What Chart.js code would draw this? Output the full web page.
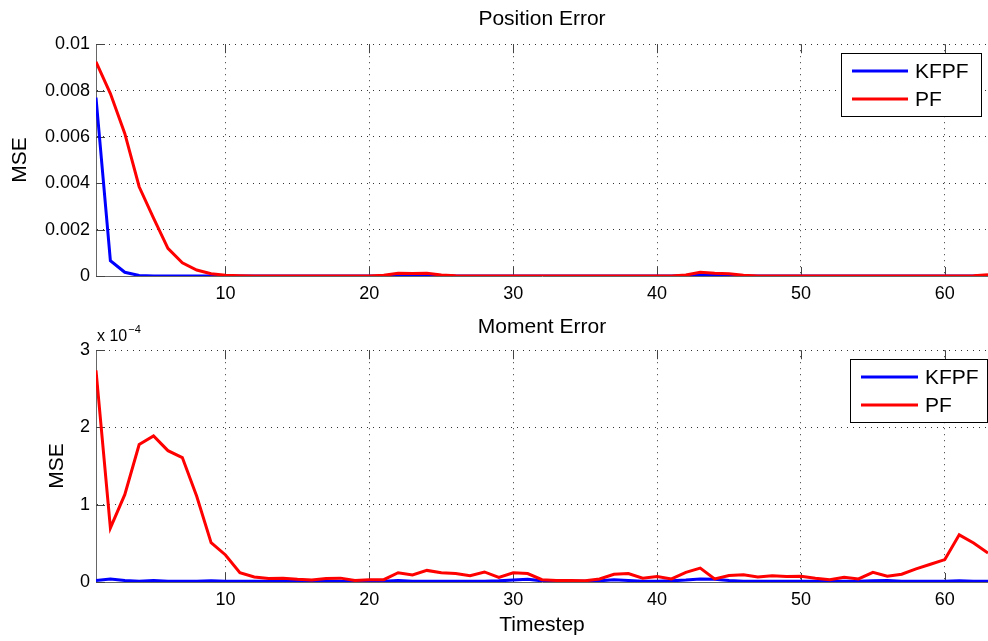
<!DOCTYPE html>
<html>
<head>
<meta charset="utf-8">
<script src="https://cdn.jsdelivr.net/npm/chart.js@4.4.1/dist/chart.umd.min.js"></script>
<style>
  body { margin: 0; background: #fff; }
  canvas { position: absolute; left: 0; }
  #graphique-position { top: 0; }
  #graphique-moment { top: 310px; }
</style>
</head>
<body>
<canvas id="graphique-position" width="988" height="310"></canvas>
<canvas id="graphique-moment" width="988" height="331"></canvas>
<script>
/* Position / Moment error — KFPF vs PF */

const timesteps = [1, 2, 3, 4, 5, 6, 7, 8, 9, 10, 11, 12, 13, 14, 15, 16, 17, 18, 19, 20,
  21, 22, 23, 24, 25, 26, 27, 28, 29, 30, 31, 32, 33, 34, 35, 36, 37, 38, 39, 40,
  41, 42, 43, 44, 45, 46, 47, 48, 49, 50, 51, 52, 53, 54, 55, 56, 57, 58, 59, 60, 61, 62, 63];

const seriesLabels = ["KFPF", "PF"];
const seriesColors = ["#0000ff", "#ff0000"];

const positionKfpf = [0.0077, 0.00066, 0.00016, 0.00002, 0, 0, 0, 0, 0, 0,
  0, 0, 0, 0, 0, 0, 0, 0, 0, 0,
  0.00001, 0.00005, 0.00005, 0.00004, 0.00001, 0, 0, 0, 0, 0,
  0, 0, 0, 0, 0, 0, 0, 0, 0, 0,
  0, 0.00002, 0.00008, 0.00005, 0.00002, 0, 0, 0, 0, 0,
  0, 0, 0, 0, 0, 0, 0, 0, 0, 0,
  0, 0, 0];
const positionPf = [0.00924, 0.00787, 0.00615, 0.00385, 0.0025, 0.00119, 0.00057, 0.00026, 0.0001, 0.00003,
  0.00001, 0, 0, 0, 0, 0, 0, 0, 0, 0,
  0.00003, 0.00012, 0.00011, 0.00012, 0.00004, 0.00001, 0, 0, 0, 0,
  0, 0, 0, 0, 0, 0, 0, 0, 0, 0,
  0, 0.00004, 0.00016, 0.00012, 0.0001, 0.00003, 0, 0, 0, 0,
  0, 0, 0, 0, 0, 0, 0, 0, 0, 0,
  0, 0.00001, 0.00005];

// en unités de 1e-4 (cf. "x 10^-4" sur l'axe)
const momentKfpf = [0.02, 0.04, 0.02, 0.01, 0.02, 0.01, 0.01, 0.01, 0.015, 0.01,
  0.01, 0.01, 0.01, 0.01, 0.01, 0.01, 0.01, 0.01, 0.01, 0.01,
  0.01, 0.02, 0.01, 0.01, 0.01, 0.01, 0.01, 0.01, 0.015, 0.025,
  0.035, 0.015, 0.01, 0.01, 0.01, 0.015, 0.03, 0.02, 0.01, 0.01,
  0.015, 0.025, 0.04, 0.035, 0.02, 0.01, 0.01, 0.01, 0.01, 0.01,
  0.01, 0.01, 0.01, 0.01, 0.015, 0.02, 0.01, 0.01, 0.01, 0.01,
  0.015, 0.01, 0.01];
const momentPf = [2.74, 0.70, 1.13, 1.78, 1.89, 1.70, 1.61, 1.11, 0.51, 0.35,
  0.12, 0.065, 0.045, 0.05, 0.035, 0.025, 0.045, 0.05, 0.02, 0.03,
  0.03, 0.12, 0.09, 0.15, 0.12, 0.11, 0.08, 0.13, 0.06, 0.12,
  0.11, 0.03, 0.02, 0.02, 0.015, 0.04, 0.10, 0.11, 0.05, 0.07,
  0.04, 0.125, 0.18, 0.04, 0.085, 0.095, 0.065, 0.08, 0.07, 0.075,
  0.05, 0.03, 0.06, 0.04, 0.125, 0.075, 0.10, 0.17, 0.23, 0.29,
  0.61, 0.505, 0.375];

const timeTicks = [10, 20, 30, 40, 50, 60];
const positionTicks = [0, 0.002, 0.004, 0.006, 0.008, 0.01];
const momentTicks = [0, 1, 2, 3];

const POLICE = "'Liberation Sans', Arial, Helvetica, sans-serif";

// petits traits de graduation vers l'intérieur, façon MATLAB
const traitsGraduation = {
  id: "traitsGraduation",
  beforeDatasetsDraw(chart) {
    const { ctx, chartArea: a, scales: { x, y } } = chart;
    ctx.save();
    ctx.strokeStyle = "#444";
    ctx.lineWidth = 1;
    ctx.beginPath();
    x.ticks.forEach(function(t) {
      const px = Math.round(x.getPixelForValue(t.value)) + 0.5;
      ctx.moveTo(px, a.bottom); ctx.lineTo(px, a.bottom - 9);
      ctx.moveTo(px, a.top); ctx.lineTo(px, a.top + 9);
    });
    y.ticks.forEach(function(t) {
      const py = Math.round(y.getPixelForValue(t.value)) + 0.5;
      ctx.moveTo(a.left, py); ctx.lineTo(a.left + 9, py);
    });
    ctx.stroke();
    ctx.restore();
  }
};

// légende encadrée + multiplicateur éventuel
const legendeCadre = {
  id: "legendeCadre",
  afterDraw(chart, args, opts) {
    const ctx = chart.ctx;
    const b = opts.box;
    ctx.save();
    ctx.fillStyle = "#fff";
    ctx.fillRect(b.x, b.y, b.w, b.h);
    ctx.strokeStyle = "#000";
    ctx.lineWidth = 1;
    ctx.strokeRect(b.x + 0.5, b.y + 0.5, b.w, b.h);
    ctx.font = "21px " + POLICE;
    ctx.textBaseline = "middle";
    chart.data.datasets.forEach(function(ds, i) {
      const ly = b.y + b.firstRow + i * b.rowGap;
      ctx.strokeStyle = ds.borderColor;
      ctx.lineWidth = 3;
      ctx.beginPath();
      ctx.moveTo(b.x + 11, ly); ctx.lineTo(b.x + 11 + b.lineLen, ly);
      ctx.stroke();
      ctx.fillStyle = "#000";
      ctx.fillText(ds.label, b.x + 18 + b.lineLen, ly + 1);
    });
    if (opts.multiplier) {
      const a = chart.chartArea;
      ctx.textBaseline = "alphabetic";
      ctx.font = "16px " + POLICE;
      ctx.fillText("x 10", a.left + 1, a.top - 9);
      const w = ctx.measureText("x 10").width;
      ctx.font = "11px " + POLICE;
      ctx.fillText(opts.multiplier, a.left + 2 + w, a.top - 17);
    }
    ctx.restore();
  }
};

function creerGraphique(canvasId, reglages) {
  const canvas = document.getElementById(canvasId);
  return new Chart(canvas.getContext("2d"), {
    type: "line",
    data: {
      datasets: reglages.series.map(function(valeurs, i) {
        return {
          label: seriesLabels[i],
          data: valeurs.map(function(v, k) { return { x: timesteps[k], y: v }; }),
          borderColor: seriesColors[i],
          borderWidth: 3,
          pointRadius: 0,
          tension: 0,
          fill: false,
          order: reglages.series.length - i
        };
      })
    },
    options: {
      responsive: false,
      animation: false,
      devicePixelRatio: 1,
      layout: { padding: { top: 0, left: 0, right: 0, bottom: 0 } },
      plugins: {
        legend: { display: false },
        tooltip: { enabled: false },
        title: {
          display: true,
          text: reglages.titre,
          fullSize: false,
          color: "#000",
          font: { family: POLICE, size: 21, weight: "normal" },
          padding: reglages.titrePadding
        },
        legendeCadre: { box: reglages.legende, multiplier: reglages.multiplicateur }
      },
      scales: {
        x: {
          type: "linear",
          min: 1,
          max: 63,
          afterBuildTicks: function(s) { s.ticks = timeTicks.map(function(v) { return { value: v }; }); },
          afterFit: function(s) { s.height = reglages.hauteurX; },
          grid: { color: "rgba(0,0,0,0.8)", lineWidth: 1, drawTicks: false },
          border: { display: true, color: "#666", width: 1, dash: [1, 5] },
          ticks: { color: "#000", font: { family: POLICE, size: 18 }, padding: 7, maxRotation: 0, autoSkip: false },
          title: reglages.titreX
            ? { display: true, text: reglages.titreX, color: "#000", font: { family: POLICE, size: 21 }, padding: { top: 0, bottom: 3 } }
            : { display: false }
        },
        y: {
          min: 0,
          max: reglages.ticksY[reglages.ticksY.length - 1],
          afterBuildTicks: function(s) { s.ticks = reglages.ticksY.map(function(v) { return { value: v }; }); },
          afterFit: function(s) { s.width = 96; },
          grid: { color: "rgba(0,0,0,0.8)", lineWidth: 1, drawTicks: false },
          border: { display: true, color: "#666", width: 1, dash: [1, 5] },
          ticks: {
            color: "#000",
            font: { family: POLICE, size: 18 },
            padding: 6,
            callback: function(v) { return v === 0 ? "0" : String(parseFloat(v.toFixed(4))); }
          },
          title: { display: true, text: "MSE", color: "#000", font: { family: POLICE, size: 21 }, padding: { top: reglages.padMSE, bottom: 0 } }
        }
      }
    },
    plugins: [traitsGraduation, legendeCadre]
  });
}

creerGraphique("graphique-position", {
  titre: "Position Error",
  titrePadding: { top: 7, bottom: 12 },
  series: [positionKfpf, positionPf],
  ticksY: positionTicks,
  hauteurX: 34,
  padMSE: 8,
  legende: { x: 841, y: 53, w: 140, h: 63, firstRow: 18, rowGap: 28, lineLen: 56 }
});

creerGraphique("graphique-moment", {
  titre: "Moment Error",
  titrePadding: { top: 5, bottom: 10 },
  series: [momentKfpf, momentPf],
  ticksY: momentTicks,
  hauteurX: 59,
  titreX: "Timestep",
  padMSE: 45,
  multiplicateur: "\u22124",
  legende: { x: 850, y: 49, w: 137, h: 63, firstRow: 18, rowGap: 28, lineLen: 57 }
});
</script>
</body>
</html>
